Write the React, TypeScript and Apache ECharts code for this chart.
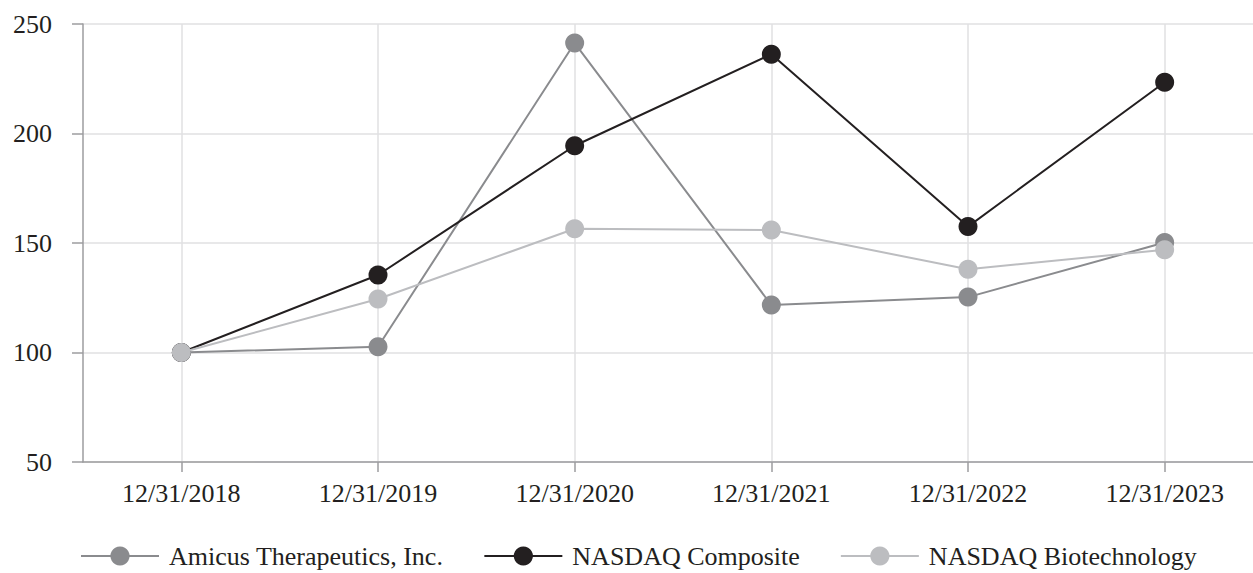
import React, { useEffect, useRef } from "react";
import * as echarts from "echarts";

const categories = ["12/31/2018", "12/31/2019", "12/31/2020", "12/31/2021", "12/31/2022", "12/31/2023"];
const amicus = [100, 102.6, 241.3, 121.7, 125.3, 150.2];
const composite = [100, 135.4, 194.4, 236.2, 157.5, 223.4];
const biotech = [100, 124.4, 156.5, 155.9, 138.0, 146.9];
const seriesNames = ["Amicus Therapeutics, Inc.", "NASDAQ Composite", "NASDAQ Biotechnology"];
const seriesColors = ["#8a8b8e", "#231f20", "#bcbdc0"];
const yTicks = { min: 50, max: 250, interval: 50 };

const FONT = '"Liberation Serif", "Times New Roman", serif';

export default function App() {
  const ref = useRef<HTMLDivElement>(null);
  useEffect(() => {
    document.body.style.margin = "0";
    const chart = echarts.init(ref.current!, undefined, { renderer: "svg" });
    const datas = [amicus, composite, biotech];
    chart.setOption({
      animation: false,
      textStyle: { fontFamily: FONT },
      grid: { left: 83, right: 0, top: 24, bottom: 111, containLabel: false, outerBoundsMode: "none" },
      legend: {
        left: 75,
        top: 538,
        itemWidth: 78,
        itemHeight: 24,
        itemGap: 40,
        textStyle: { fontFamily: FONT, fontSize: 26, color: "#231f20", padding: [0, 0, 0, 5] },
        data: seriesNames,
      },
      xAxis: {
        type: "category",
        data: categories,
        boundaryGap: true,
        axisLine: { show: true, lineStyle: { color: "#9d9d9f", width: 1.5 } },
        axisTick: { show: true, alignWithLabel: true, length: 10, lineStyle: { color: "#9d9d9f", width: 1.5 } },
        axisLabel: { fontFamily: FONT, fontSize: 26, color: "#231f20", margin: 18 },
        splitLine: { show: true, alignWithLabel: true, lineStyle: { color: "#e1e1e2", width: 1.5 } },
      },
      yAxis: {
        type: "value",
        min: yTicks.min,
        max: yTicks.max,
        interval: yTicks.interval,
        axisLine: { show: true, lineStyle: { color: "#9d9d9f", width: 1.5 } },
        axisTick: { show: true, length: 11, lineStyle: { color: "#9d9d9f", width: 1.5 } },
        axisLabel: { fontFamily: FONT, fontSize: 26, color: "#231f20", margin: 31 },
        splitLine: { show: true, lineStyle: { color: "#e1e1e2", width: 1.5 } },
      },
      series: datas.map((d, i) => ({
        name: seriesNames[i],
        type: "line",
        data: d,
        symbol: "circle",
        symbolSize: 19,
        showAllSymbol: true,
        lineStyle: { color: seriesColors[i], width: 2 },
        itemStyle: { color: seriesColors[i] },
        emphasis: { disabled: true },
        z: 2 + i,
      })),
    });
    return () => chart.dispose();
  }, []);
  return (
    <div style={{ position: "absolute", left: 0, top: 0, width: 1253, height: 573, overflow: "hidden" }}>
      <div ref={ref} style={{ width: 1263, height: 573 }} />
    </div>
  );
}
